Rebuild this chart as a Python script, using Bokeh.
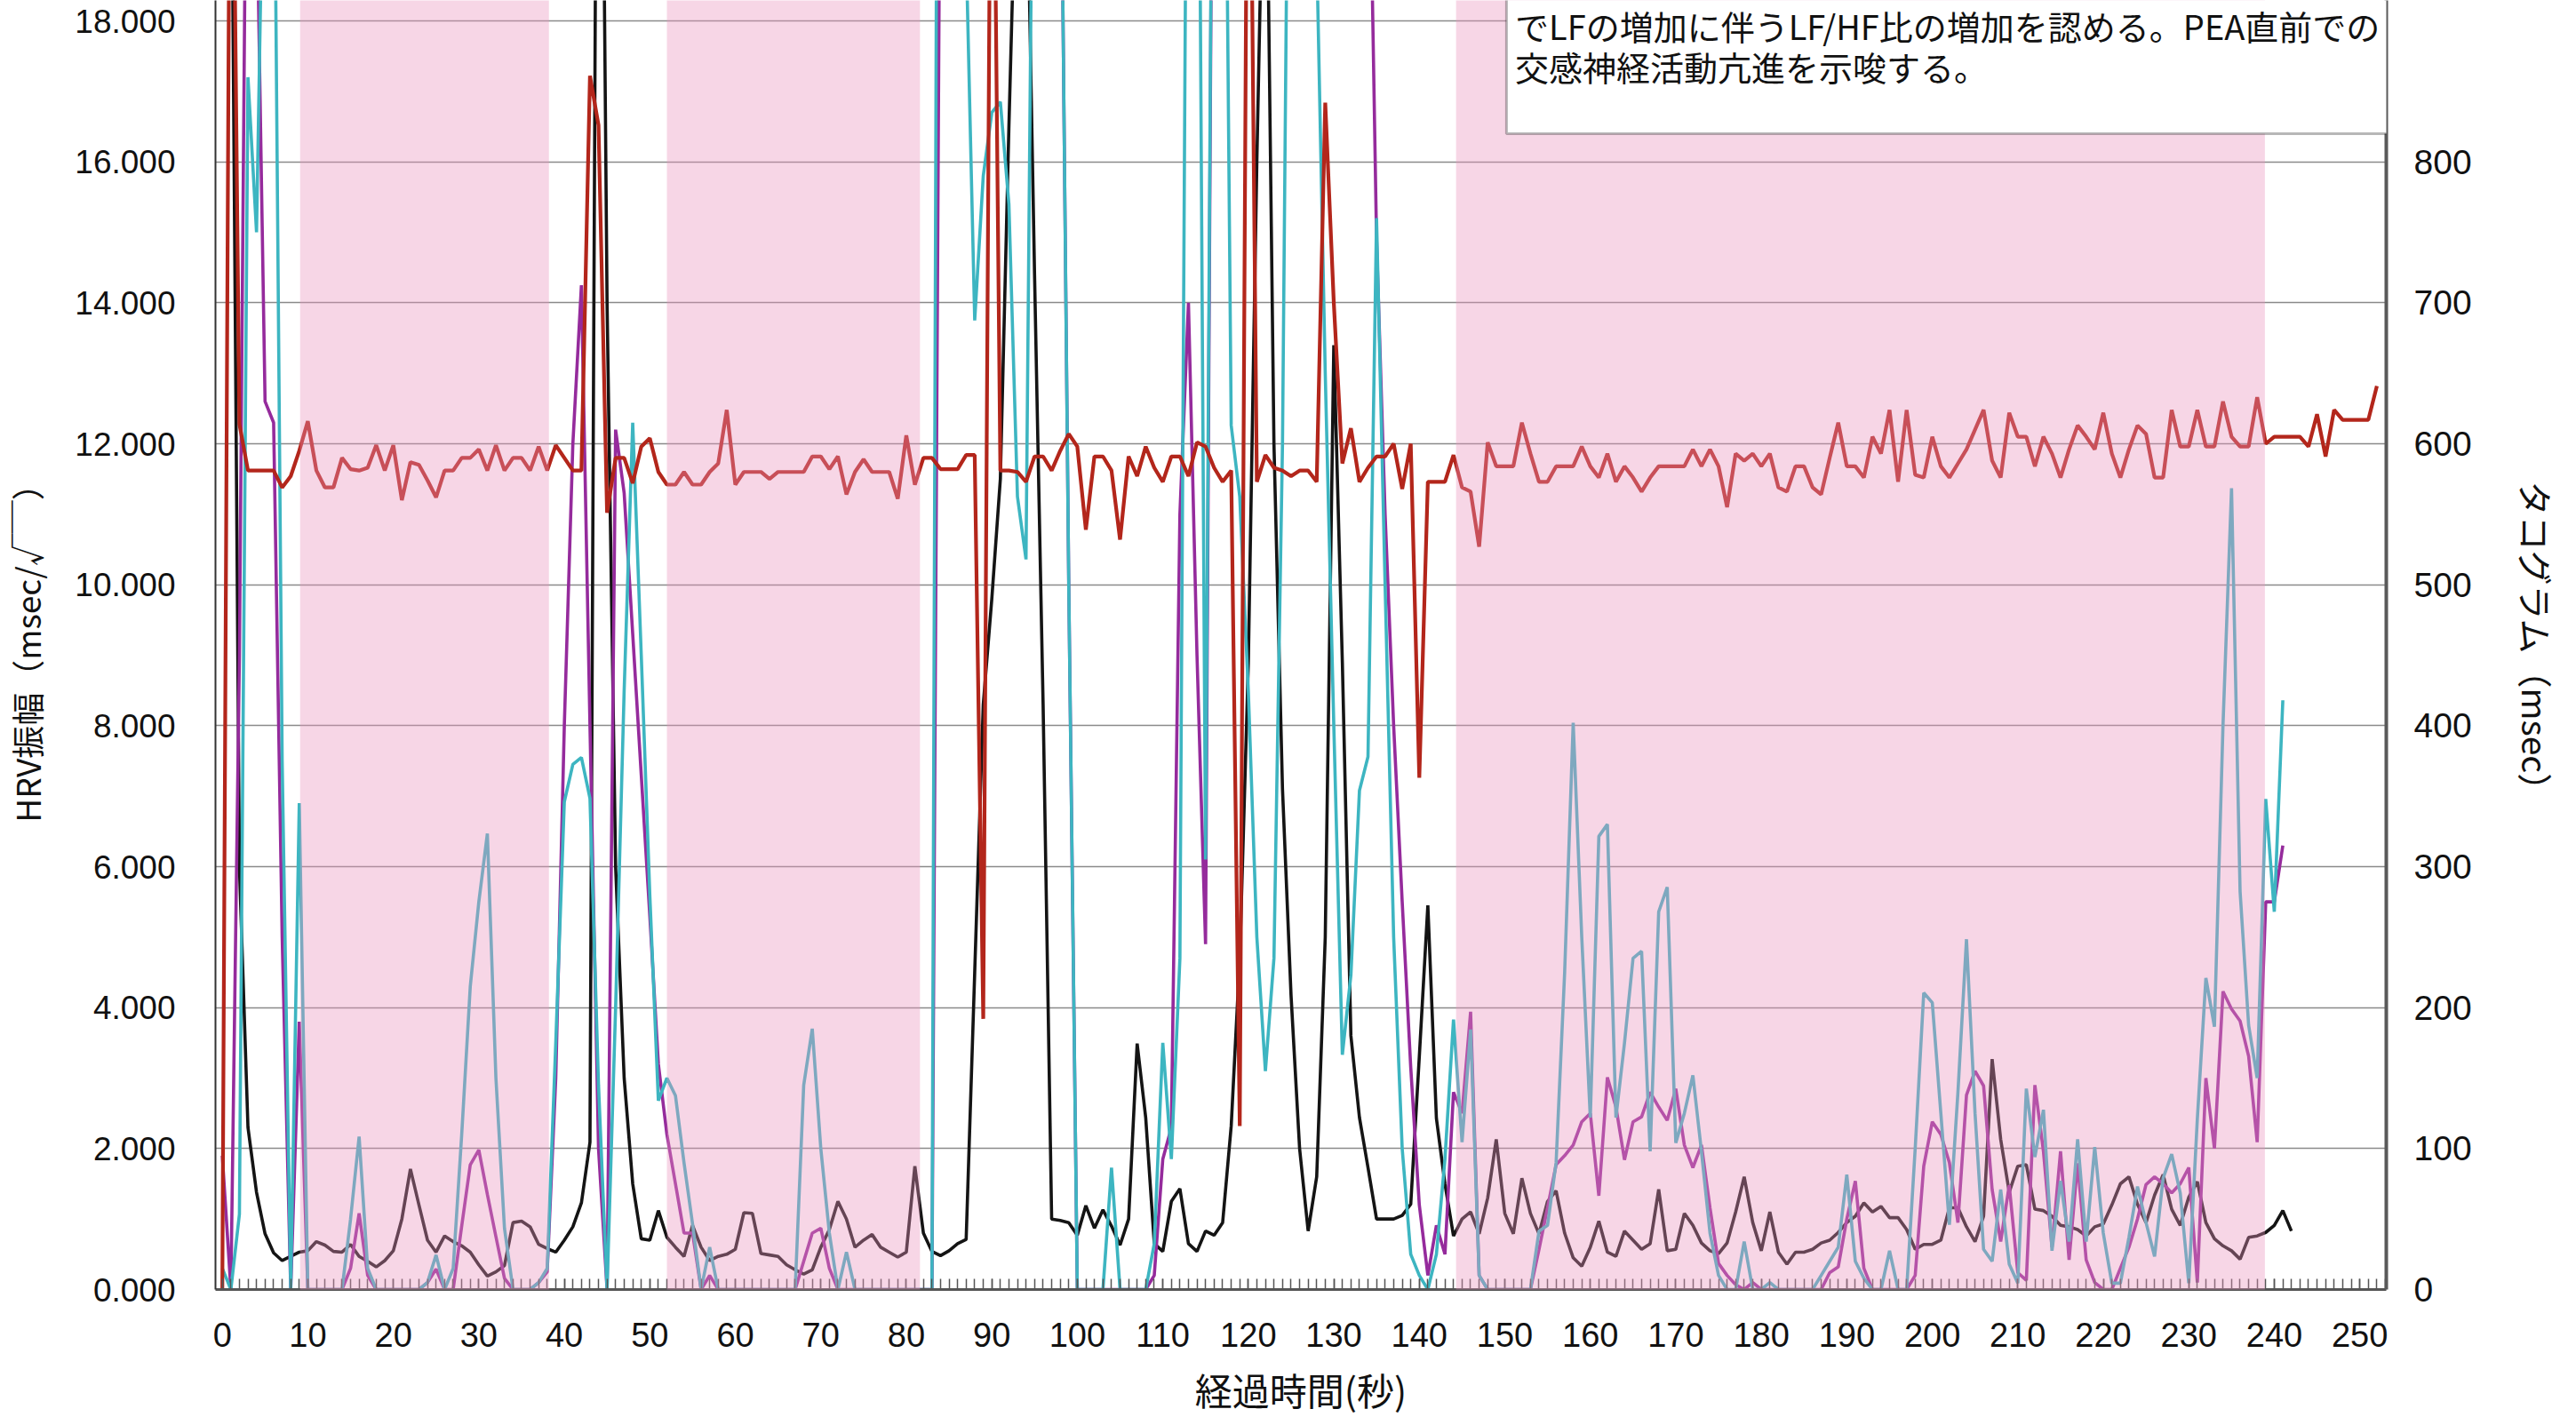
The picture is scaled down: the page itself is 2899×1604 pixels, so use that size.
import numpy as np
from bokeh.plotting import figure
from bokeh.models import (Range1d, LinearAxis, SingleIntervalTicker, FixedTicker,
                          NumeralTickFormatter, BoxAnnotation, Label)
from bokeh.embed import file_html
from bokeh.resources import INLINE

# ---------------- data ----------------
# HRV amplitude series (left axis), one value per second
hrv_black = [
    25, 22, 6.0, 2.3, 1.38, 0.79, 0.52, 0.41, 0.47, 0.53,
    0.55, 0.68, 0.63, 0.54, 0.53, 0.64, 0.47, 0.40, 0.32, 0.41,
    0.55, 1.0, 1.71, 1.2, 0.70, 0.53, 0.76, 0.68, 0.62, 0.53,
    0.35, 0.19, 0.25, 0.34, 0.95, 0.97, 0.89, 0.64, 0.58, 0.53,
    0.70, 0.89, 1.23, 2.09, 28, 14, 6.0, 3.0, 1.5, 0.72,
    0.70, 1.12, 0.74, 0.60, 0.47, 0.91, 0.60, 0.41, 0.47, 0.50,
    0.57, 1.09, 1.08, 0.51, 0.49, 0.47, 0.35, 0.28, 0.22, 0.28,
    0.60, 0.85, 1.25, 1.00, 0.60, 0.70, 0.78, 0.60, 0.53, 0.46,
    0.53, 1.75, 0.80, 0.54, 0.48, 0.55, 0.65, 0.71, 4.5, 8.3,
    9.8, 11.5, 16.5, 21.0, 21.0, 14.4, 8.3, 1.0, 0.98, 0.95,
    0.77, 1.19, 0.87, 1.13, 0.90, 0.63, 1.00, 3.49, 2.44, 0.65,
    0.54, 1.25, 1.43, 0.65, 0.54, 0.83, 0.77, 0.95, 2.32, 4.7,
    8.87, 16.0, 22.0, 12.0, 7.1, 4.17, 2.0, 0.83, 1.6, 5.0,
    13.4, 8.9, 3.6, 2.44, 1.73, 1.0, 1.0, 1.0, 1.05, 1.21,
    3.3, 5.45, 2.43, 1.5, 0.76, 1.0, 1.1, 0.79, 1.3, 2.13,
    1.08, 0.79, 1.58, 1.08, 0.79, 1.25, 1.4, 0.8, 0.45, 0.33,
    0.6, 0.97, 0.53, 0.47, 0.83, 0.7, 0.57, 0.65, 1.42, 0.55,
    0.57, 1.08, 0.91, 0.66, 0.55, 0.51, 0.66, 1.1, 1.6, 0.95,
    0.55, 1.1, 0.53, 0.36, 0.53, 0.53, 0.57, 0.66, 0.70, 0.81,
    0.95, 1.04, 1.23, 1.1, 1.18, 1.02, 1.02, 0.85, 0.57, 0.64,
    0.64, 0.7, 1.16, 1.16, 0.89, 0.68, 1.04, 3.27, 2.13, 1.38,
    1.75, 1.77, 1.14, 1.12, 1.04, 0.91, 0.89, 0.85, 0.76, 0.89,
    0.93, 1.2, 1.5, 1.6, 1.21, 0.95, 1.34, 1.63, 1.14, 0.91,
    1.31, 1.53, 0.95, 0.72, 0.62, 0.55, 0.43, 0.74, 0.76, 0.81,
    0.91, 1.12, 0.83]

hrv_purple = [
    1.9, 0, 9, 24, 20, 12.6, 12.3, 5.0, 0, 3.8,
    0, 0, 0, 0, 0, 0.3, 1.08, 0.2, 0, 0,
    0, 0, 0, 0, 0.1, 0.29, 0, 0, 0.9, 1.77,
    1.98, 1.35, 0.75, 0.16, 0, 0, 0, 0.1, 0.25, 3.0,
    8.0, 12.0, 14.25, 8.0, 2.0, 0, 12.2, 11.3, 9.3, 7.3,
    5.3, 3.2, 2.2, 1.5, 0.8, 0.8, 0, 0.2, 0, 0,
    0, 0, 0, 0, 0, 0, 0, 0, 0.4, 0.8,
    0.87, 0.3, 0, 0, 0, 0, 0, 0, 0, 0,
    0, 0, 0, 0, 22, 26, 26, 26, 26, 26,
    26, 26, 26, 26, 26, 26, 26, 26, 22, 10,
    0, 0, 0, 0, 0, 0, 0, 0, 0, 0.2,
    1.85, 2.3, 11, 14.0, 9.0, 4.9, 26, 26, 26, 26,
    26, 26, 26, 26, 26, 26, 26, 26, 26, 26,
    26, 26, 26, 26, 22, 14.9, 11, 8, 5.5, 3.15,
    1.2, 0.2, 0.91, 0.5, 2.8, 2.5, 3.94, 0.2, 0, 0,
    0, 0, 0, 0, 0.57, 1.16, 1.77, 1.9, 2.05, 2.38,
    2.5, 1.33, 3.01, 2.59, 1.84, 2.38, 2.45, 2.8, 2.59, 2.4,
    2.85, 2.05, 1.73, 2.05, 1.16, 0.37, 0.2, 0.07, 0, 0.1,
    0, 0, 0, 0, 0, 0, 0, 0, 0.24, 0.32,
    1.0, 1.54, 0.3, 0, 0, 0, 0, 0, 0.2, 1.75,
    2.38, 2.2, 1.8, 0.95, 2.76, 3.1, 2.89, 1.42, 0.68, 1.48,
    0.24, 0.13, 2.9, 1.96, 0.6, 1.96, 0.42, 1.79, 0.42, 0.1,
    0, 0, 0.3, 0.6, 1.0, 1.49, 1.6, 1.5, 1.37, 1.5,
    1.73, 0.1, 3.0, 2.0, 4.23, 3.98, 3.81, 3.31, 2.09, 5.5,
    5.5, 6.3]

hrv_teal = [
    0.3, 0, 1.07, 17.2, 15.0, 22, 22, 7.5, 0, 6.9,
    0, 0, 0, 0, 0, 1.0, 2.17, 0.3, 0, 0,
    0, 0, 0, 0, 0.1, 0.49, 0, 0.3, 2.2, 4.3,
    5.5, 6.47, 3.0, 0.87, 0, 0, 0, 0.1, 0.3, 3.5,
    6.92, 7.45, 7.55, 6.97, 2.9, 0, 4.0, 8.5, 12.3, 9.0,
    5.6, 2.68, 3.0, 2.75, 1.8, 0.93, 0, 0.6, 0, 0,
    0, 0, 0, 0, 0, 0, 0, 0, 2.9, 3.7,
    2.0, 0.8, 0, 0.53, 0, 0, 0, 0, 0, 0,
    0, 0, 0, 0, 36, 26, 24, 19, 13.75, 15.8,
    16.7, 16.85, 15.4, 11.25, 10.36, 24, 26, 26, 22, 10,
    0, 0, 0, 0, 1.73, 0, 0, 0, 0, 0.65,
    3.5, 1.85, 4.7, 26, 26, 6.1, 26, 26, 12.26, 11.25,
    8.5, 5.0, 3.1, 4.7, 12, 26, 26, 26, 19, 13,
    8, 3.33, 4.46, 7.08, 7.56, 15.2, 10, 5, 2, 0.5,
    0.2, 0, 0.5, 1.85, 3.83, 2.09, 3.69, 0.2, 0, 0,
    0, 0, 0, 0, 0.83, 0.91, 1.8, 4.5, 8.04, 5.0,
    2.44, 6.43, 6.6, 2.44, 3.5, 4.7, 4.8, 1.96, 5.36, 5.71,
    2.08, 2.5, 3.04, 1.96, 0.8, 0.2, 0, 0, 0.68, 0,
    0, 0.1, 0, 0, 0, 0, 0, 0.2, 0.4, 0.6,
    1.63, 0.4, 0.16, 0, 0, 0.55, 0, 0, 2.0, 4.21,
    4.07, 2.5, 0.92, 2.8, 4.97, 2.5, 0.57, 0.4, 1.42, 0.36,
    0.09, 2.85, 1.88, 2.55, 0.55, 1.54, 0.68, 2.13, 0.68, 2.02,
    0.8, 0.09, 0.09, 0.74, 1.46, 0.95, 0.47, 1.58, 1.92, 1.37,
    0.09, 2.42, 4.42, 3.73, 8.0, 11.37, 5.65, 3.75, 3.0, 6.96,
    5.36, 8.36]

# tachogram (right axis, msec)
tachogram = [
    0, 1200, 614, 581, 581, 581, 581, 569, 577, 595,
    616, 581, 569, 569, 590, 582, 581, 583, 599, 581,
    599, 560, 587, 585, 574, 562, 581, 581, 590, 590,
    596, 581, 599, 581, 590, 590, 581, 598, 581, 599,
    590, 581, 581, 861, 826, 551, 590, 590, 572, 598,
    604, 580, 571, 571, 580, 571, 571, 580, 586, 624,
    571, 580, 580, 580, 575, 580, 580, 580, 580, 591,
    591, 582, 591, 564, 580, 589, 580, 580, 580, 561,
    606, 571, 590, 590, 582, 582, 582, 592, 592, 192,
    1200, 581, 581, 580, 573, 591, 591, 581, 595, 607,
    598, 539, 591, 591, 581, 532, 591, 577, 598, 583,
    573, 591, 591, 577, 601, 598, 583, 573, 581, 116,
    1200, 573, 592, 583, 581, 577, 581, 581, 573, 842,
    700, 586, 611, 573, 583, 591, 591, 600, 568, 600,
    363, 573, 573, 573, 592, 569, 566, 527, 601, 584,
    584, 584, 615, 593, 573, 573, 584, 584, 584, 598,
    584, 576, 593, 573, 584, 576, 566, 576, 584, 584,
    584, 584, 596, 584, 596, 584, 555, 593, 588, 593,
    584, 593, 569, 566, 584, 584, 569, 564, 590, 615,
    584, 584, 576, 605, 593, 624, 573, 624, 578, 576,
    605, 584, 576, 586, 596, 610, 624, 588, 576, 622,
    605, 605, 584, 605, 593, 576, 596, 613, 605, 596,
    622, 593, 576, 596, 613, 607, 576, 576, 624, 598,
    598, 624, 598, 598, 630, 605, 598, 598, 633, 600,
    605, 605, 605, 605, 598, 621, 591, 624, 617, 617,
    617, 617, 641]

# shaded phases (seconds)
phase_start = [9.1, 52.0, 144.3]
phase_end = [38.2, 81.6, 238.9]

right_ticks = [0, 100, 200, 300, 400, 500, 600, 700, 800]

x_label = "経過時間(秒)"
left_label = "HRV振幅（msec/√￣）"
right_label = "タコグラム（msec）"
note_lines = ["でLFの増加に伴うLF/HF比の増加を認める。PEA直前での",
              "交感神経活動亢進を示唆する。"]

# ---------------- figure ----------------
Y_TOP = 18.29
p = figure(frame_width=2443, frame_height=1451,
           x_range=Range1d(-0.8, 253.1), y_range=Range1d(0, Y_TOP),
           output_backend="svg", toolbar_location=None,
           min_border_left=239, min_border_right=198,
           min_border_top=0, min_border_bottom=139,
           outline_line_color=None, background_fill_color="white",
           border_fill_color="white")
p.extra_y_ranges = {"taco": Range1d(0, Y_TOP * 50)}

TICK_FONT = "Liberation Sans"
CJK = "Noto Sans CJK JP"

# x axis
xa = p.xaxis[0]
xa.ticker = SingleIntervalTicker(interval=10, num_minor_ticks=10)
xa.major_tick_in = 12
xa.major_tick_out = 0
xa.minor_tick_in = 12
xa.minor_tick_out = 0
xa.axis_line_width = 3
xa.axis_line_color = "#555555"
xa.major_tick_line_color = "#555555"
xa.minor_tick_line_color = "#555555"
xa.major_tick_line_width = 1.5
xa.minor_tick_line_width = 1.5
xa.major_label_text_font = TICK_FONT
xa.major_label_text_font_size = "38px"
xa.major_label_text_color = "#111111"
xa.major_label_standoff = 37
xa.axis_label = x_label
xa.axis_label_text_font = CJK
xa.axis_label_text_font_style = "normal"
xa.axis_label_text_font_size = "42px"
xa.axis_label_text_color = "#111111"
xa.axis_label_standoff = 14

# left axis
ya = p.yaxis[0]
ya.ticker = SingleIntervalTicker(interval=2, num_minor_ticks=0)
ya.formatter = NumeralTickFormatter(format="0.000")
ya.major_tick_in = 0
ya.major_tick_out = 0
ya.minor_tick_in = 0
ya.minor_tick_out = 0
ya.axis_line_width = 2
ya.axis_line_color = "#333333"
ya.major_label_text_font = TICK_FONT
ya.major_label_text_font_size = "37px"
ya.major_label_text_color = "#111111"
ya.major_label_standoff = 45
ya.axis_label = left_label
ya.axis_label_text_font = CJK
ya.axis_label_text_font_style = "normal"
ya.axis_label_text_font_size = "37px"
ya.axis_label_text_color = "#111111"
ya.axis_label_standoff = 24

# right axis
ra = LinearAxis(y_range_name="taco", ticker=FixedTicker(ticks=right_ticks))
ra.major_tick_in = 0
ra.major_tick_out = 0
ra.minor_tick_in = 0
ra.minor_tick_out = 0
ra.axis_line_width = 4
ra.axis_line_color = "#5a5a5a"
ra.major_label_text_font = TICK_FONT
ra.major_label_text_font_size = "39px"
ra.major_label_text_color = "#111111"
ra.major_label_standoff = 31
ra.axis_label = right_label
ra.axis_label_text_font = CJK
ra.axis_label_text_font_style = "normal"
ra.axis_label_text_font_size = "39px"
ra.axis_label_text_color = "#111111"
ra.axis_label_standoff = 42
p.add_layout(ra, "right")

p.xgrid.visible = False
p.ygrid.grid_line_color = "#8a8a8a"
p.ygrid.grid_line_width = 1.5

# ---------------- series ----------------
x_black = np.arange(len(hrv_black))
x_purple = np.arange(len(hrv_purple))
x_teal = np.arange(len(hrv_teal))
x_taco = np.arange(len(tachogram))

p.line(x_black, hrv_black, line_color="#141414", line_width=3.6)
p.line(x_purple, hrv_purple, line_color="#952b9c", line_width=3.6)
p.line(x_teal, hrv_teal, line_color="#3db5c1", line_width=3.6)
p.line(x_taco, tachogram, line_color="#b3261b", line_width=4.2,
       y_range_name="taco")

# ---------------- shaded phases (drawn over, like the print) ----------------
for s, e in zip(phase_start, phase_end):
    p.add_layout(BoxAnnotation(left=s, right=e, top=Y_TOP + 5, bottom=-5,
                               fill_color="#e994bc", fill_alpha=0.38,
                               line_color=None, level="overlay"))

# ---------------- note box ----------------
p.add_layout(BoxAnnotation(left=150.2, right=262.0, top=Y_TOP + 5,
                           bottom=16.40, fill_color="white", fill_alpha=1.0,
                           line_color="#111111", line_width=3,
                           level="overlay"))
for txt, yy in zip(note_lines, [17.94, 17.36]):
    p.add_layout(Label(x=151.2, y=yy, text=txt, text_font=CJK,
                       text_font_size="38px", text_baseline="middle",
                       text_color="#111111", level="overlay"))

open("out.html", "w").write(file_html(p, INLINE))
